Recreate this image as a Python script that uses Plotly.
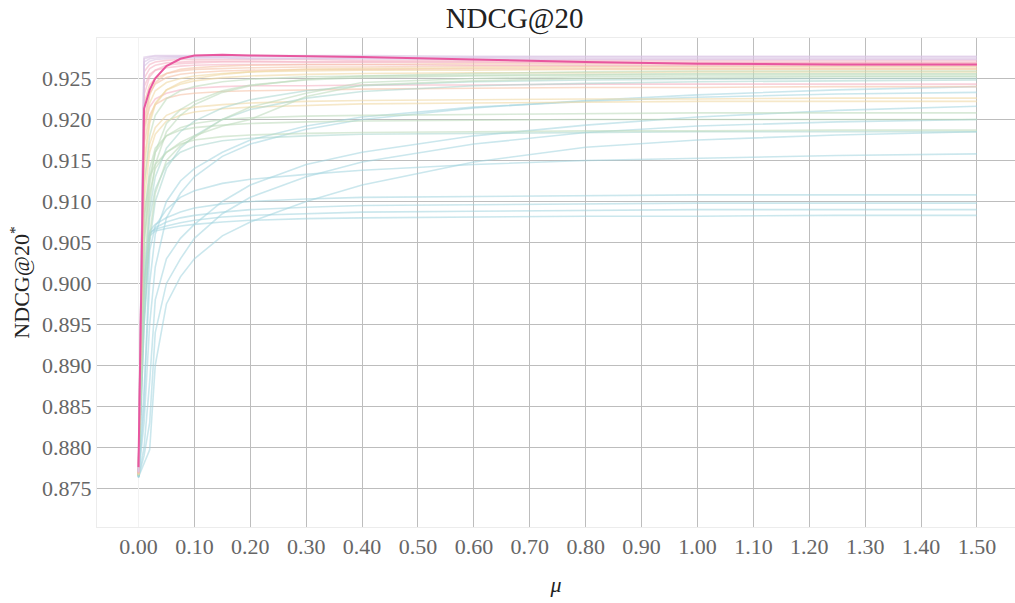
import plotly.graph_objects as go

mu = [0, 0.01, 0.02, 0.03, 0.05, 0.075, 0.1, 0.15, 0.2, 0.3, 0.4, 0.6, 0.8, 1.0, 1.25, 1.5]

# background runs (NDCG@20 vs mu), ordered roughly from lowest to highest
runs = {
    "B1": [0.8763, 0.8950, 0.9058, 0.9064, 0.9067, 0.9070, 0.9072, 0.9075, 0.9077, 0.9079, 0.9080, 0.9081, 0.9082, 0.9082, 0.9083, 0.9083],
    "B2": [0.8764, 0.8960, 0.9062, 0.9066, 0.9070, 0.9074, 0.9077, 0.9081, 0.9083, 0.9085, 0.9087, 0.9088, 0.9089, 0.9090, 0.9090, 0.9090],
    "B3": [0.8763, 0.8990, 0.9060, 0.9068, 0.9075, 0.9080, 0.9083, 0.9087, 0.9090, 0.9093, 0.9095, 0.9096, 0.9097, 0.9098, 0.9098, 0.9098],
    "B4": [0.8764, 0.9000, 0.9064, 0.9072, 0.9080, 0.9087, 0.9092, 0.9097, 0.9100, 0.9103, 0.9105, 0.9106, 0.9107, 0.9108, 0.9108, 0.9108],
    "M1": [0.8764, 0.8850, 0.9040, 0.9070, 0.9090, 0.9105, 0.9113, 0.9122, 0.9127, 0.9133, 0.9138, 0.9145, 0.9150, 0.9153, 0.9156, 0.9158],
    "S1": [0.8764, 0.8780, 0.8797, 0.8900, 0.8975, 0.9008, 0.9030, 0.9058, 0.9075, 0.9100, 0.9120, 0.9148, 0.9166, 0.9175, 0.9181, 0.9185],
    "S2": [0.8764, 0.8790, 0.8830, 0.8940, 0.9000, 0.9030, 0.9055, 0.9085, 0.9105, 0.9130, 0.9148, 0.9170, 0.9184, 0.9192, 0.9197, 0.9200],
    "S3": [0.8764, 0.8800, 0.8880, 0.8980, 0.9030, 0.9055, 0.9072, 0.9100, 0.9120, 0.9145, 0.9160, 0.9180, 0.9193, 0.9203, 0.9211, 0.9216],
    "S5": [0.8765, 0.8870, 0.9000, 0.9060, 0.9100, 0.9125, 0.9140, 0.9160, 0.9175, 0.9192, 0.9203, 0.9215, 0.9222, 0.9227, 0.9231, 0.9233],
    "S4": [0.8765, 0.8830, 0.8950, 0.9020, 0.9080, 0.9110, 0.9130, 0.9155, 0.9170, 0.9188, 0.9200, 0.9214, 0.9223, 0.9230, 0.9236, 0.9240],
    "G2": [0.8766, 0.9000, 0.9080, 0.9115, 0.9145, 0.9160, 0.9167, 0.9174, 0.9177, 0.9180, 0.9182, 0.9183, 0.9184, 0.9185, 0.9185, 0.9185],
    "G1": [0.8766, 0.9050, 0.9110, 0.9140, 0.9160, 0.9170, 0.9175, 0.9179, 0.9181, 0.9183, 0.9184, 0.9185, 0.9186, 0.9186, 0.9187, 0.9187],
    "G3": [0.8766, 0.9080, 0.9140, 0.9165, 0.9180, 0.9187, 0.9190, 0.9193, 0.9195, 0.9197, 0.9198, 0.9199, 0.9200, 0.9200, 0.9200, 0.9200],
    "G4": [0.8766, 0.9060, 0.9130, 0.9160, 0.9180, 0.9190, 0.9195, 0.9200, 0.9202, 0.9204, 0.9205, 0.9206, 0.9207, 0.9208, 0.9208, 0.9208],
    "Y2": [0.8767, 0.9100, 0.9160, 0.9182, 0.9198, 0.9205, 0.9209, 0.9213, 0.9215, 0.9217, 0.9219, 0.9220, 0.9221, 0.9222, 0.9222, 0.9222],
    "Y1": [0.8767, 0.9120, 0.9170, 0.9190, 0.9205, 0.9212, 0.9215, 0.9218, 0.9220, 0.9222, 0.9223, 0.9224, 0.9225, 0.9225, 0.9226, 0.9226],
    "O1": [0.8768, 0.9170, 0.9205, 0.9218, 0.9226, 0.9230, 0.9232, 0.9234, 0.9235, 0.9236, 0.9237, 0.9238, 0.9239, 0.9239, 0.9240, 0.9240],
    "O2": [0.8768, 0.9190, 0.9215, 0.9225, 0.9232, 0.9236, 0.9238, 0.9240, 0.9241, 0.9241, 0.9242, 0.9242, 0.9243, 0.9243, 0.9243, 0.9243],
    "T1": [0.8766, 0.8950, 0.9050, 0.9100, 0.9140, 0.9165, 0.9180, 0.9200, 0.9212, 0.9226, 0.9234, 0.9241, 0.9244, 0.9246, 0.9247, 0.9248],
    "T2": [0.8766, 0.9000, 0.9090, 0.9130, 0.9165, 0.9185, 0.9198, 0.9214, 0.9224, 0.9235, 0.9241, 0.9246, 0.9248, 0.9249, 0.9250, 0.9250],
    "T3": [0.8766, 0.9080, 0.9130, 0.9145, 0.9160, 0.9172, 0.9180, 0.9192, 0.9200, 0.9228, 0.9242, 0.9247, 0.9250, 0.9251, 0.9252, 0.9252],
    "T4": [0.8766, 0.8980, 0.9060, 0.9110, 0.9150, 0.9168, 0.9178, 0.9200, 0.9215, 0.9232, 0.9245, 0.9250, 0.9252, 0.9253, 0.9253, 0.9253],
    "T5": [0.8766, 0.9050, 0.9120, 0.9160, 0.9195, 0.9212, 0.9222, 0.9235, 0.9242, 0.9248, 0.9251, 0.9253, 0.9254, 0.9255, 0.9255, 0.9255],
    "T6": [0.8767, 0.9120, 0.9180, 0.9205, 0.9225, 0.9235, 0.9240, 0.9246, 0.9249, 0.9252, 0.9253, 0.9254, 0.9255, 0.9256, 0.9256, 0.9256],
    "T7": [0.8767, 0.9150, 0.9200, 0.9220, 0.9236, 0.9243, 0.9247, 0.9251, 0.9253, 0.9255, 0.9256, 0.9257, 0.9257, 0.9258, 0.9258, 0.9258],
    "T8": [0.8766, 0.9020, 0.9100, 0.9145, 0.9185, 0.9205, 0.9218, 0.9233, 0.9241, 0.9249, 0.9253, 0.9256, 0.9258, 0.9259, 0.9259, 0.9259],
    "T9": [0.8767, 0.9180, 0.9220, 0.9235, 0.9245, 0.9250, 0.9253, 0.9256, 0.9258, 0.9259, 0.9260, 0.9260, 0.9261, 0.9261, 0.9261, 0.9261],
    "T10": [0.8768, 0.9200, 0.9232, 0.9243, 0.9251, 0.9255, 0.9257, 0.9259, 0.9260, 0.9261, 0.9261, 0.9262, 0.9262, 0.9262, 0.9262, 0.9262],
    "T11": [0.8767, 0.9140, 0.9195, 0.9218, 0.9236, 0.9245, 0.9250, 0.9255, 0.9258, 0.9261, 0.9262, 0.9263, 0.9264, 0.9264, 0.9264, 0.9264],
    "T12": [0.8768, 0.9220, 0.9242, 0.9250, 0.9256, 0.9259, 0.9261, 0.9262, 0.9263, 0.9264, 0.9264, 0.9265, 0.9265, 0.9265, 0.9265, 0.9265],
    "T13": [0.8769, 0.9240, 0.9255, 0.9260, 0.9263, 0.9265, 0.9266, 0.9267, 0.9267, 0.9267, 0.9267, 0.9266, 0.9266, 0.9266, 0.9266, 0.9266],
    "T14": [0.8768, 0.9190, 0.9230, 0.9245, 0.9256, 0.9261, 0.9263, 0.9265, 0.9266, 0.9267, 0.9267, 0.9268, 0.9268, 0.9268, 0.9268, 0.9268],
    "T15": [0.8769, 0.9250, 0.9262, 0.9266, 0.9269, 0.9270, 0.9271, 0.9271, 0.9271, 0.9270, 0.9270, 0.9270, 0.9269, 0.9269, 0.9269, 0.9269],
    "T16": [0.8769, 0.9230, 0.9252, 0.9260, 0.9266, 0.9268, 0.9269, 0.9270, 0.9270, 0.9270, 0.9270, 0.9270, 0.9270, 0.9270, 0.9270, 0.9270],
    "T17": [0.8770, 0.9258, 0.9267, 0.9270, 0.9272, 0.9273, 0.9273, 0.9273, 0.9273, 0.9273, 0.9272, 0.9272, 0.9272, 0.9272, 0.9272, 0.9272],
    "T18": [0.8770, 0.9265, 0.9271, 0.9273, 0.9274, 0.9275, 0.9275, 0.9275, 0.9274, 0.9274, 0.9274, 0.9273, 0.9273, 0.9273, 0.9273, 0.9273],
    "T19": [0.8770, 0.9270, 0.9274, 0.9275, 0.9276, 0.9276, 0.9276, 0.9276, 0.9275, 0.9275, 0.9275, 0.9275, 0.9274, 0.9274, 0.9274, 0.9274],
    "T20": [0.8771, 0.9274, 0.9276, 0.9277, 0.9277, 0.9277, 0.9277, 0.9277, 0.9277, 0.9277, 0.9276, 0.9276, 0.9276, 0.9276, 0.9276, 0.9276],
    "T21": [0.8771, 0.9276, 0.9277, 0.9278, 0.9278, 0.9278, 0.9278, 0.9278, 0.9278, 0.9278, 0.9278, 0.9277, 0.9277, 0.9277, 0.9277, 0.9277],
}

# highlighted (best) run
best = [0.8776, 0.9213, 0.9236, 0.9250, 0.9265, 0.9274, 0.9278, 0.9279, 0.9278, 0.9277, 0.9276, 0.9273, 0.9270, 0.9268, 0.9267, 0.9267]

run_group = {
    "B1": "blue", "B2": "blue", "B3": "blue", "B4": "blue", "M1": "blue",
    "S1": "blue", "S2": "blue", "S3": "blue", "S4": "blue", "S5": "blue",
    "G1": "green", "G2": "teal", "G3": "green", "G4": "green",
    "Y1": "yellow", "Y2": "yellow", "O1": "orange", "O2": "pink",
    "T1": "teal", "T2": "teal", "T3": "green", "T4": "green", "T5": "green",
    "T6": "green", "T7": "yellow", "T8": "green", "T9": "yellow", "T10": "orange",
    "T11": "yellow", "T12": "orange", "T13": "pink", "T14": "orange", "T15": "pink",
    "T16": "pink", "T17": "pink", "T18": "lavender", "T19": "lavender",
    "T20": "lavender", "T21": "lavender",
}

group_color = {
    "blue": "rgba(160,212,222,0.55)",
    "teal": "rgba(168,214,205,0.55)",
    "green": "rgba(190,218,188,0.58)",
    "yellow": "rgba(240,216,165,0.6)",
    "orange": "rgba(245,195,168,0.6)",
    "pink": "rgba(245,180,196,0.6)",
    "lavender": "rgba(218,196,228,0.6)",
}

FONT = "'Liberation Serif', 'Times New Roman', serif"

fig = go.Figure()
for name, vals in runs.items():
    fig.add_trace(go.Scatter(
        x=mu, y=vals, mode="lines", name=name, showlegend=False,
        line=dict(color=group_color[run_group[name]], width=1.6),
        hoverinfo="skip",
    ))
fig.add_trace(go.Scatter(
    x=mu, y=best, mode="lines", name="best", showlegend=False,
    line=dict(color="#e8579f", width=2),
))

fig.update_layout(
    width=1015, height=603,
    margin=dict(l=97, r=0, t=38, b=76),
    paper_bgcolor="white", plot_bgcolor="white",
    font=dict(family=FONT, color="#555", size=22),
    title=dict(text="NDCG@20", x=0.507, xanchor="center", y=0.988, yanchor="top",
               font=dict(family=FONT, size=29, color="#222")),
    xaxis=dict(
        range=[-0.0742, 1.568], tick0=0, dtick=0.1, tickformat=".2f",
        showgrid=True, gridcolor="#bdbdbd", gridwidth=1,
        zeroline=True, zerolinecolor="#f2f2f2", zerolinewidth=1,
        showline=True, mirror=True, linecolor="#ececec", linewidth=1,
        ticks="", tickfont=dict(family=FONT, size=22, color="#666"),
        title=dict(text="<i>μ</i>", font=dict(family=FONT, size=22, color="#222"), standoff=18),
    ),
    yaxis=dict(
        range=[0.8703, 0.92993], tick0=0.875, dtick=0.005, tickformat=".3f",
        showgrid=True, gridcolor="#bdbdbd", gridwidth=1,
        zeroline=False,
        showline=True, mirror=True, linecolor="#ececec", linewidth=1,
        ticks="", tickfont=dict(family=FONT, size=22, color="#666"),
        title=dict(text="NDCG@20<sup>*</sup>",
                   font=dict(family=FONT, size=22, color="#222"), standoff=6),
    ),
)

fig.write_html("out.html")
